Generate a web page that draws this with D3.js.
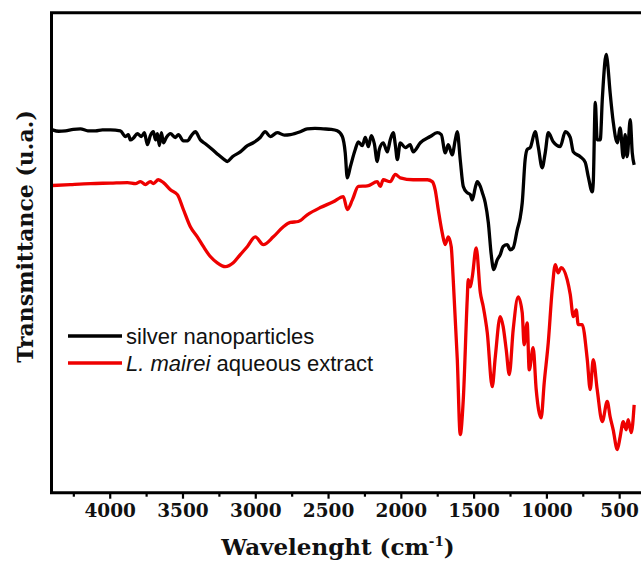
<!DOCTYPE html>
<html>
<head>
<meta charset="utf-8">
<script src="https://cdn.jsdelivr.net/npm/d3@7"></script>
<style>
  html, body { margin: 0; padding: 0; background: #fff; }
  svg { display: block; }
</style>
</head>
<body>
<svg id="chart" width="641" height="562"></svg>
<script>
// FTIR spectra: wavenumber (cm-1) and transmittance (arbitrary units, 0-100)
const agWavenumber = [4393,4350,4304,4250,4201,4150,4098,4050,3995,3927,3892,3872,3858,3837,3810,3782,3762,3741,3721,3700,3686,3672,3659,3645,3631,3611,3583,3549,3528,3494,3466,3439,3412,3377,3343,3295,3254,3213,3192,3157,3103,3054,3014,2966,2932,2897,2849,2800,2759,2691,2643,2590,2533,2480,2437,2402,2382,2368,2347,2313,2292,2265,2244,2223,2203,2182,2162,2148,2121,2093,2073,2052,2038,2024,2004,1970,1936,1915,1866,1798,1750,1722,1695,1674,1647,1626,1612,1592,1571,1544,1523,1509,1489,1475,1454,1440,1420,1399,1379,1362,1338,1317,1297,1269,1249,1228,1200,1180,1166,1146,1132,1111,1077,1056,1029,1008,987,953,905,870,836,815,767,733,712,685,678,664,651,630,616,609,589,582,562,541,513,493,472,459,445,424,410,397];
const agTransmittance = [75.6,75.3,75.4,75.7,75.8,75.4,75.4,75.6,75.6,75.4,74.2,74.6,73.5,73.9,74.8,74.2,75.0,72.5,74.4,75.2,73.5,74.8,72.3,75.0,72.9,74.0,74.8,74.0,74.6,73.3,73.3,74.4,75.2,73.5,72.7,71.5,70.4,69.4,69.0,70.0,71.0,72.3,72.9,74.0,75.2,74.2,75.0,74.5,74.6,75.2,75.8,75.9,75.8,75.7,75.4,74.2,70.8,65.6,67.9,71.5,73.1,72.3,74.0,72.1,74.4,72.7,69.0,71.5,72.9,71.0,73.5,75.0,72.5,69.4,72.9,71.9,72.5,71.0,72.9,74.2,75.0,74.6,70.8,72.5,70.4,73.5,75.2,69.4,63.8,62.5,62.1,61.0,63.5,64.8,63.8,62.5,60.4,56.3,49.6,46.5,48.5,49.6,51.3,51.7,50.6,51.0,54.8,57.3,60.4,69.4,71.5,71.9,75.2,72.1,67.7,70.8,75.0,73.1,72.1,75.2,74.0,71.0,70.0,68.8,65.8,62.7,64.6,81.3,73.5,73.5,81.9,85.4,91.3,90.2,83.3,77.3,72.9,76.0,69.8,74.6,70.0,77.7,70.8,68.3];

const extractWavenumber = [4393,4270,4132,3995,3878,3823,3789,3755,3721,3700,3666,3631,3583,3535,3494,3446,3398,3357,3309,3261,3206,3151,3103,3054,3000,2945,2876,2807,2759,2704,2643,2553,2464,2395,2368,2333,2292,2230,2162,2141,2121,2073,2038,2004,1915,1818,1784,1764,1743,1716,1695,1674,1654,1640,1612,1592,1571,1544,1537,1523,1509,1482,1454,1434,1406,1372,1351,1317,1297,1276,1255,1228,1194,1166,1153,1132,1118,1091,1070,1036,1015,987,960,939,919,898,857,836,815,795,781,754,719,699,678,651,616,582,562,541,513,493,472,452,438,417,397];
const extractTransmittance = [64.0,64.2,64.4,64.5,64.6,64.4,64.8,64.2,64.8,64.4,65.2,64.6,63.1,62.1,59.0,55.4,53.3,51.3,49.2,47.9,47.1,47.9,49.6,51.3,53.3,51.7,53.3,55.4,56.3,56.5,57.9,59.4,60.6,61.7,59.0,61.0,63.8,63.9,64.8,63.8,65.2,64.8,66.3,65.6,65.2,65.2,64.8,63.1,59.0,54.2,51.7,53.3,51.3,44.4,27.7,12.1,19.4,40.2,44.4,42.9,45.0,51.0,41.7,38.8,33.3,22.1,28.3,36.7,34.6,29.8,24.6,34.0,40.8,37.5,30.8,35.4,25.6,30.2,21.5,15.6,22.9,31.3,42.3,47.5,45.8,46.9,44.4,41.3,36.7,38.1,35.0,35.0,27.7,21.5,27.7,21.5,14.8,19.0,15.8,13.1,9.0,11.7,14.8,13.1,15.2,12.5,18.3];

const xTickValues = [4000, 3500, 3000, 2500, 2000, 1500, 1000, 500];
const xMinorTickValues = [4250, 3750, 3250, 2750, 2250, 1750, 1250, 750];

const seriesColors = ["#000000", "#ee0000"];

const svg = d3.select("#chart");
const plot = { left: 51.5, right: 641, top: 12.7, bottom: 492.7 };

const x = d3.scaleLinear().domain([4400, 350]).range([plot.left, plot.right]);
const y = d3.scaleLinear().domain([0, 100]).range([plot.bottom, plot.top]);

const serifFont = "'DejaVu Serif', 'Liberation Serif', serif";
const sansFont = "'Liberation Sans', Arimo, Arial, sans-serif";

// spectra
const line = d3.line()
  .x(d => x(d[0]))
  .y(d => y(d[1]))
  .curve(d3.curveMonotoneX);

const agData = agWavenumber.map((w, i) => [w, agTransmittance[i]]);
const extractData = extractWavenumber.map((w, i) => [w, extractTransmittance[i]]);

svg.append("path")
  .datum(extractData)
  .attr("d", line)
  .attr("fill", "none")
  .attr("stroke", seriesColors[1])
  .attr("stroke-width", 3.3)
  .attr("stroke-linejoin", "round");

svg.append("path")
  .datum(agData)
  .attr("d", line)
  .attr("fill", "none")
  .attr("stroke", seriesColors[0])
  .attr("stroke-width", 3.3)
  .attr("stroke-linejoin", "round");

// frame: left and top borders
svg.append("line")
  .attr("x1", plot.left).attr("x2", plot.left)
  .attr("y1", plot.top).attr("y2", plot.bottom)
  .attr("stroke", "#000").attr("stroke-width", 3);
svg.append("line")
  .attr("x1", plot.left - 1.5).attr("x2", plot.right)
  .attr("y1", plot.top).attr("y2", plot.top)
  .attr("stroke", "#000").attr("stroke-width", 3);

// bottom axis: major ticks with labels
const xAxis = svg.append("g")
  .attr("transform", `translate(0,${plot.bottom})`)
  .call(d3.axisBottom(x).tickValues(xTickValues).tickSize(6).tickSizeOuter(0).tickFormat(d3.format("d")));
xAxis.select(".domain")
  .attr("stroke-width", 3)
  .attr("d", `M${plot.left - 1.5},0H${plot.right}`);
xAxis.selectAll(".tick line").attr("stroke-width", 2.2);
xAxis.selectAll(".tick text")
  .attr("y", 24)
  .attr("dy", 0)
  .attr("fill", "#111")
  .style("font-family", serifFont)
  .style("font-weight", "bold")
  .style("font-size", "18.5px");

// minor ticks
const xMinor = svg.append("g")
  .attr("transform", `translate(0,${plot.bottom})`)
  .call(d3.axisBottom(x).tickValues(xMinorTickValues).tickSize(4).tickFormat(""));
xMinor.select(".domain").remove();
xMinor.selectAll(".tick line").attr("stroke-width", 2.2);

// axis titles
const xTitle = svg.append("text")
  .attr("x", 338)
  .attr("y", 555)
  .attr("text-anchor", "middle")
  .attr("fill", "#111")
  .style("font-family", serifFont)
  .style("font-weight", "bold")
  .style("font-size", "23px");
xTitle.append("tspan").text("Wavelenght (cm");
xTitle.append("tspan").text("-1").attr("dy", -9).style("font-size", "13.5px");
xTitle.append("tspan").text(")").attr("dy", 9);

svg.append("text")
  .attr("transform", "translate(33,236.5) rotate(-90)")
  .attr("text-anchor", "middle")
  .attr("fill", "#111")
  .style("font-family", serifFont)
  .style("font-weight", "bold")
  .style("font-size", "22px")
  .text("Transmittance (u.a.)");

// legend
const legend = svg.append("g");
const legendRows = [
  { y: 336, color: seriesColors[0], parts: [{ t: "silver nanoparticles", italic: false }] },
  { y: 363, color: seriesColors[1], parts: [{ t: "L. mairei", italic: true }, { t: " aqueous extract", italic: false }] }
];
legendRows.forEach(row => {
  legend.append("line")
    .attr("x1", 68).attr("x2", 122)
    .attr("y1", row.y).attr("y2", row.y)
    .attr("stroke", row.color).attr("stroke-width", 3.3);
  const t = legend.append("text")
    .attr("x", 126)
    .attr("y", row.y + 7.5)
    .attr("fill", "#111")
    .style("font-family", sansFont)
    .style("font-size", "22px");
  row.parts.forEach(p => {
    t.append("tspan").text(p.t).style("font-style", p.italic ? "italic" : "normal");
  });
});
</script>
</body>
</html>
